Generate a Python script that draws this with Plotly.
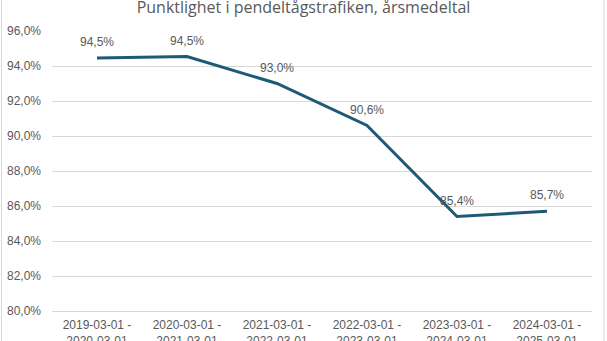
import plotly.graph_objects as go

# Årsmedeltal för punktlighet, mars–mars
periods = [
    "2019-03-01 -<br>2020-03-01",
    "2020-03-01 -<br>2021-03-01",
    "2021-03-01 -<br>2022-03-01",
    "2022-03-01 -<br>2023-03-01",
    "2023-03-01 -<br>2024-03-01",
    "2024-03-01 -<br>2025-03-01",
]
punctuality = [94.46, 94.54, 93.0, 90.6, 85.4, 85.7]
y_ticks = [80, 82, 84, 86, 88, 90, 92, 94, 96]

LINE = "#1d5a76"
TEXT = "#595959"
GRID = "#d9d9d9"

fig = go.Figure()
fig.add_trace(go.Scatter(
    x=periods, y=punctuality, mode="lines",
    line=dict(color=LINE, width=3),
    hoverinfo="skip", showlegend=False,
))

# Värdeetiketter ovanför varje punkt
for p, v in zip(periods, punctuality):
    fig.add_annotation(
        x=p, y=v, text=f"{v:.1f}".replace(".", ",") + "%",
        showarrow=False, yshift=16,
        font=dict(family="Liberation Sans", size=12, color=TEXT),
    )

fig.update_layout(
    width=607, height=341,
    margin=dict(l=52, r=15, t=31, b=30, autoexpand=False),
    paper_bgcolor="white", plot_bgcolor="white",
    separators=", ",
    title=dict(
        text="Punktlighet i pendeltågstrafiken, årsmedeltal",
        x=0.5, xanchor="center", y=1.0, yref="paper", yanchor="bottom",
        pad=dict(b=18),
        font=dict(family="Open Sans", size=16, color=TEXT),
    ),
    xaxis=dict(
        type="category", range=[-0.5, 5.5], automargin=False,
        showgrid=False, showline=True,
        linecolor=GRID, linewidth=1, ticks="",
        ticklabelstandoff=3,
        tickfont=dict(family="Liberation Sans", size=12, color=TEXT),
        fixedrange=True,
    ),
    yaxis=dict(
        range=[80, 96], tickvals=y_ticks, automargin=False,
        ticktext=[f"{t:.1f}".replace(".", ",") + "%" for t in y_ticks],
        showgrid=True, gridcolor=GRID, gridwidth=1,
        zeroline=False, showline=False, ticks="",
        ticklabelstandoff=10,
        tickfont=dict(family="Liberation Sans", size=12, color=TEXT),
        fixedrange=True,
    ),
    shapes=[dict(
        type="rect", xref="paper", yref="paper",
        x0=(1.5 - 52) / 540, x1=(604 - 52) / 540, y0=-0.5, y1=1.5,
        line=dict(color=GRID, width=1), fillcolor="rgba(0,0,0,0)",
        layer="below",
    )],
)

fig.write_html("out.html")
